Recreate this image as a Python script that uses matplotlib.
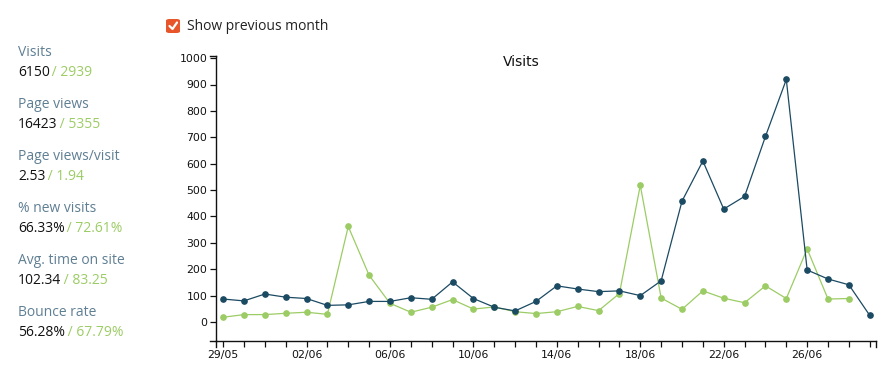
import matplotlib.pyplot as plt
from matplotlib.patches import FancyBboxPatch
from matplotlib.lines import Line2D

# days since 29/05
days = list(range(32))
visits = [87, 80, 106, 94, 89, 63, 65, 78, 78, 92,
          86, 152, 89, 56, 42, 78, 137, 125, 115, 118,
          100, 156, 458, 610, 428, 476, 703, 919, 197, 163, 141, 25]
prev_visits = [18, 28, 28, 33, 37, 29, 362, 177, 71, 37,
               56, 85, 49, 57, 39, 32, 39, 59, 43, 108,
               518, 91, 48, 118, 90, 73, 137, 89, 277, 87, 89]
major_days = [0, 4, 8, 12, 16, 20, 24, 28]
major_labels = ["29/05", "02/06", "06/06", "10/06", "14/06", "18/06", "22/06", "26/06"]

stat_names = ["Visits", "Page views", "Page views/visit", "% new visits",
              "Avg. time on site", "Bounce rate"]
stat_now = ["6150", "16423", "2.53", "66.33%", "102.34", "56.28%"]
stat_prev = ["2939", "5355", "1.94", "72.61%", "83.25", "67.79%"]

BLUE = "#1b4a63"
GREEN = "#9ccc65"
LABEL = "#5f7f93"

W, H = 889, 386
fig = plt.figure(figsize=(W / 100, H / 100), dpi=100)
plt.rcParams["font.family"] = ["DejaVu Sans"]

# axes box in pixels
x0, x1 = 216, 876
y_top, y_bot = 56, 341
ax = fig.add_axes([x0 / W, 1 - y_bot / H, (x1 - x0) / W, (y_bot - y_top) / H])

ax.plot(days[:len(prev_visits)], prev_visits, color=GREEN, lw=0.9,
        marker="o", ms=3.8, mec=GREEN, zorder=2)
ax.plot(days, visits, color=BLUE, lw=0.9, marker="o", ms=3.8, mec=BLUE, zorder=3)

ax.set_xlim(-0.34, 31.3)
ax.set_ylim(-72, 1008)
ax.set_yticks(range(0, 1001, 100))
ax.set_xticks(major_days)
ax.set_xticklabels(major_labels)
ax.set_xticks(days, minor=True)
ax.tick_params(axis="both", which="both", direction="out", length=4.3, width=0.9,
               labelsize=7.8, colors="#111111", pad=2)

for s in ["top", "right"]:
    ax.spines[s].set_visible(False)
for s in ["left", "bottom"]:
    ax.spines[s].set_linewidth(1.0)
    ax.spines[s].set_color("#111111")

# d3-style outer ticks at domain ends
for yy in (y_top, y_bot):
    fig.add_artist(Line2D([(x0 - 6) / W, x0 / W], [1 - yy / H, 1 - yy / H],
                          color="#111111", lw=1.0))
for xx in (x0, x1):
    fig.add_artist(Line2D([xx / W, xx / W], [1 - y_bot / H, 1 - (y_bot + 6) / H],
                          color="#111111", lw=1.0))

fig.text(521 / W, 1 - 62 / H, "Visits", ha="center", va="center",
         fontsize=10, color="#111111")

# checkbox
cb = FancyBboxPatch((166 / W, 1 - 33 / H), 14 / W, 14 / H,
                    boxstyle="round,pad=0,rounding_size=0.004",
                    transform=fig.transFigure, facecolor="#e8552a", edgecolor="none")
fig.add_artist(cb)
fig.add_artist(Line2D([169.5 / W, 172.5 / W, 177 / W],
                      [1 - 26 / H, 1 - 29 / H, 1 - 22.5 / H],
                      color="white", lw=1.6, solid_capstyle="round"))
fig.text(187 / W, 1 - 26 / H, "Show previous month", ha="left", va="center",
         fontsize=10, family=["Open Sans", "DejaVu Sans"], color="#222222")

# sidebar stats
fig.canvas.draw()
for i, name in enumerate(stat_names):
    yy = 52 + i * 52
    fig.text(18 / W, 1 - yy / H, name, ha="left", va="center", fontsize=10,
             family=["Open Sans", "DejaVu Sans"], color=LABEL)
    t = fig.text(18 / W, 1 - (yy + 20) / H, stat_now[i], ha="left", va="center",
                 fontsize=10, family=["Open Sans", "DejaVu Sans"], color="#111111")
    bb = t.get_window_extent(renderer=fig.canvas.get_renderer())
    fig.text((bb.x1 - 1.5) / W, 1 - (yy + 20) / H, " / " + stat_prev[i], ha="left",
             va="center", fontsize=10, family=["Open Sans", "DejaVu Sans"],
             color=GREEN)

fig.savefig("out.png", dpi=100)
